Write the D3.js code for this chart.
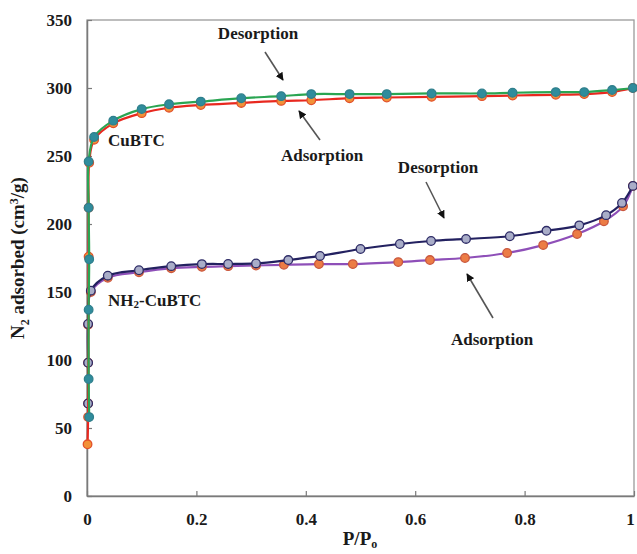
<!DOCTYPE html>
<html><head><meta charset="utf-8">
<script src="https://cdn.jsdelivr.net/npm/d3@7"></script>
<style>body{margin:0;background:#fff}svg{display:block}svg text{font-family:"Liberation Serif","Times New Roman","DejaVu Serif",serif !important;font-weight:bold}</style>
</head><body>
<svg id="c" width="637" height="554"></svg>
<script>
const xTicks = [0, 0.2, 0.4, 0.6, 0.8, 1];
const yTicks = [0, 50, 100, 150, 200, 250, 300, 350];

const cubtcAdsP = [0.001, 0.002, 0.003, 0.003, 0.004, 0.013, 0.048, 0.10, 0.15, 0.208, 0.282, 0.355, 0.41, 0.48, 0.548, 0.63, 0.722, 0.778, 0.857, 0.909, 0.96, 0.998];
const cubtcAdsV = [38, 58, 176, 212, 245, 262, 274, 281.5, 285.5, 287.5, 289, 290.5, 291, 292.5, 293, 293.5, 294, 294.5, 295, 295.5, 297, 300];

const cubtcDesP = [0.998, 0.96, 0.909, 0.857, 0.778, 0.722, 0.63, 0.548, 0.48, 0.41, 0.355, 0.282, 0.208, 0.15, 0.10, 0.048, 0.013, 0.003, 0.003, 0.004, 0.003, 0.003, 0.004];
const cubtcDesV = [300, 298.5, 297, 297, 296.5, 296, 296, 295.5, 295.5, 295.5, 294, 292.5, 290, 288, 284.5, 276, 264, 246, 212, 174, 137, 86, 58];

const nh2AdsP = [0.002, 0.002, 0.002, 0.007, 0.038, 0.095, 0.154, 0.21, 0.258, 0.309, 0.36, 0.424, 0.486, 0.569, 0.627, 0.691, 0.768, 0.834, 0.896, 0.945, 0.98, 0.998];
const nh2AdsV = [68, 98, 126, 150, 160.5, 164.5, 167.5, 168.5, 169, 169.5, 170, 170.5, 170.5, 172, 173.5, 175, 178.7, 184.5, 192.6, 202, 213, 228];

const nh2DesP = [0.998, 0.978, 0.949, 0.90, 0.84, 0.773, 0.693, 0.629, 0.572, 0.50, 0.426, 0.368, 0.309, 0.258, 0.21, 0.154, 0.095, 0.038, 0.007, 0.002, 0.002, 0.002];
const nh2DesV = [228, 215.5, 206.5, 199, 195, 191, 189, 187.5, 185.3, 181.6, 176.5, 173.5, 171, 170.6, 170.5, 169, 166, 162, 151, 126.5, 98, 68];

const FONT = "'Liberation Serif','Times New Roman','DejaVu Serif',serif";
const svg = d3.select("#c").attr("font-family", FONT);
const L = 87, R = 634, T = 20, B = 496;
const x = d3.scaleLinear().domain([0, 1]).range([L, R]);
const y = d3.scaleLinear().domain([0, 350]).range([B, T]);

// frame
svg.append("rect").attr("x", L).attr("y", T).attr("width", R - L).attr("height", B - T)
  .attr("fill", "none").attr("stroke", "#9a9a9a").attr("stroke-width", 1.3);

const xAxis = svg.append("g").attr("transform", `translate(0,${B})`)
  .call(d3.axisBottom(x).tickValues(xTicks).tickFormat(d => d === 0 || d === 1 ? String(d) : d3.format(".1f")(d)).tickSizeInner(-5).tickSizeOuter(0).tickPadding(14));
const yAxis = svg.append("g").attr("transform", `translate(${L},0)`)
  .call(d3.axisLeft(y).tickValues(yTicks).tickSizeInner(-5).tickSizeOuter(0).tickPadding(15));
[xAxis, yAxis].forEach(g => {
  g.attr("font-family", FONT);
  g.select(".domain").attr("stroke", "#7a7a7a").attr("stroke-width", 1.5);
  g.selectAll(".tick line").attr("stroke", "#7a7a7a").attr("stroke-width", 1.2);
  g.selectAll(".tick text").attr("fill", "#1a1a1a").style("font-size", "17px").style("font-weight", "bold");
});
xAxis.selectAll(".tick text").attr("dy", "0.9em");
xAxis.selectAll(".tick").filter(d => d === 1).select("text").attr("dx", -4);

const line = d3.line().x(d => x(d[0])).y(d => y(d[1])).curve(d3.curveCatmullRom.alpha(0.5));

function series(P, V, lineColor, fill, stroke, lw) {
  const data = P.map((p, i) => [p, V[i]]);
  const g = svg.append("g");
  g.append("path").datum(data).attr("d", line).attr("fill", "none").attr("stroke", lineColor).attr("stroke-width", lw);
  g.selectAll("circle").data(data).join("circle")
    .attr("cx", d => x(d[0])).attr("cy", d => y(d[1])).attr("r", 4.3)
    .attr("fill", fill).attr("stroke", stroke).attr("stroke-width", 1.3);
}
series(nh2AdsP, nh2AdsV, "#8e4fb8", "#ec7c45", "#c9573e", 2.2);
series(nh2DesP, nh2DesV, "#232160", "#a9adc8", "#2d2b66", 2.2);
series(cubtcAdsP, cubtcAdsV, "#e8281f", "#f29138", "#e2502a", 2.2);
series(cubtcDesP, cubtcDesV, "#2aa552", "#2f8c9c", "#2f7f8c", 2.2);

// annotations
svg.append("defs").append("marker").attr("id", "ah").attr("viewBox", "0 0 10 10")
  .attr("refX", 9).attr("refY", 5).attr("markerWidth", 5).attr("markerHeight", 5)
  .attr("markerUnits", "strokeWidth").attr("orient", "auto")
  .append("path").attr("d", "M0,0 L10,5 L0,10 Z").attr("fill", "#111");

function label(t, cx, cy, anchor) {
  svg.append("text").attr("x", cx).attr("y", cy).attr("text-anchor", anchor || "middle")
    .attr("dominant-baseline", "central").style("font-size", "17px").attr("fill", "#1a1a1a").text(t);
}
function arrow(x1, y1, x2, y2) {
  svg.append("line").attr("x1", x1).attr("y1", y1).attr("x2", x2).attr("y2", y2)
    .attr("stroke", "#555").attr("stroke-width", 1.6).attr("marker-end", "url(#ah)");
}
label("Desorption", 258, 33);
arrow(265, 52, 283, 80);
label("CuBTC", 108, 140, "start");
label("Adsorption", 322, 155);
arrow(320, 140, 299, 111);
label("Desorption", 438, 167);
arrow(426, 182, 444, 218);
label("Adsorption", 492, 339);
arrow(493, 318, 467, 274);
const nh = svg.append("text").attr("x", 108).attr("y", 300).attr("dominant-baseline", "central")
  .style("font-size", "17px").attr("fill", "#1a1a1a");
nh.append("tspan").text("NH");
nh.append("tspan").attr("dy", 4).style("font-size", "11px").text("2");
nh.append("tspan").attr("dy", -4).text("-CuBTC");

// axis titles
const yt = svg.append("text").attr("transform", "translate(24,258) rotate(-90)").attr("text-anchor", "middle")
  .style("font-size", "19px").attr("fill", "#1a1a1a");
yt.append("tspan").text("N");
yt.append("tspan").attr("dy", 5).style("font-size", "12px").text("2");
yt.append("tspan").attr("dy", -5).text(" adsorbed (cm");
yt.append("tspan").attr("dy", -6).style("font-size", "12px").text("3");
yt.append("tspan").attr("dy", 6).text("/g)");

const xt = svg.append("text").attr("x", 360).attr("y", 545).attr("text-anchor", "middle")
  .style("font-size", "19px").attr("fill", "#1a1a1a");
xt.append("tspan").text("P/P");
xt.append("tspan").attr("dy", 3).style("font-size", "12px").text("o");
</script>
</body></html>
